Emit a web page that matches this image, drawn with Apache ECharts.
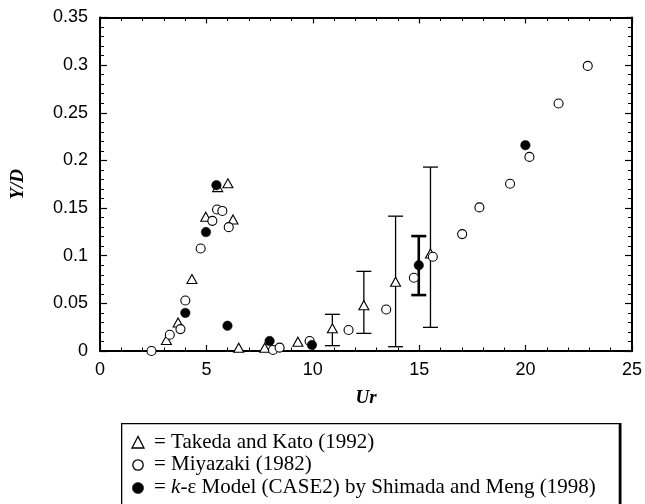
<!DOCTYPE html>
<html>
<head>
<meta charset="utf-8">
<script src="https://cdn.jsdelivr.net/npm/echarts@6/dist/echarts.min.js"></script>
<style>
  html, body { margin: 0; padding: 0; background: #fff; }
  #chart { width: 645px; height: 504px; }
</style>
</head>
<body>
<div id="chart"></div>
<script>
// Takeda and Kato (1992): [Ur, Y/D]
const takeda = [
  [3.12, 0.0115], [3.67, 0.030], [4.32, 0.0755], [4.97, 0.141], [5.53, 0.172],
  [6.01, 0.176], [6.25, 0.138], [6.52, 0.0035], [7.74, 0.0035], [9.30, 0.0098],
  [10.92, 0.0238], [12.40, 0.048], [13.89, 0.0727], [15.53, 0.1024]
];
// Miyazaki (1982): [Ur, Y/D]
const miyazaki = [
  [2.42, 0.0], [3.28, 0.017], [3.78, 0.023], [4.01, 0.053], [4.73, 0.1076],
  [5.28, 0.1366], [5.50, 0.1485], [5.75, 0.147], [6.05, 0.130], [8.13, 0.001],
  [8.44, 0.0035], [9.85, 0.0105], [11.68, 0.022], [13.45, 0.0436], [14.75, 0.0769],
  [15.64, 0.0989], [17.02, 0.1227], [17.83, 0.1507], [19.27, 0.1755], [20.18, 0.2037],
  [21.55, 0.2597], [22.92, 0.2992]
];
// k-epsilon model (CASE2), Shimada and Meng (1998): [Ur, Y/D]
const kEpsModel = [
  [4.01, 0.040], [4.98, 0.1248], [5.47, 0.174], [5.99, 0.0265], [7.97, 0.0105],
  [9.96, 0.0063], [14.98, 0.090], [19.99, 0.216]
];
// Scatter ranges: [Ur, low, high]
const takedaRange = [
  [10.92, 0.0056, 0.0385], [12.40, 0.0185, 0.0836], [13.89, 0.0045, 0.1415], [15.53, 0.0248, 0.193]
];
const modelRange = [
  [14.98, 0.0587, 0.1206]
];
// Axis ticks
const xTicks = [0, 5, 10, 15, 20, 25];
const yTicks = [0, 0.05, 0.1, 0.15, 0.2, 0.25, 0.3, 0.35];

const legendLines = [
  'Takeda and Kato (1992)',
  'Miyazaki (1982)',
  'Model (CASE2) by Shimada and Meng (1998)'
];

const chart = echarts.init(document.getElementById('chart'), null, { renderer: 'canvas' });

function errorBars(lineWidth) {
  return function (params, api) {
    const x = api.value(0);
    const lo = api.coord([x, api.value(1)]);
    const hi = api.coord([x, api.value(2)]);
    const half = 7.5;
    const style = { stroke: '#000', lineWidth: lineWidth, fill: null };
    return {
      type: 'group',
      children: [
        { type: 'line', shape: { x1: lo[0], y1: lo[1], x2: hi[0], y2: hi[1] }, style },
        { type: 'line', shape: { x1: lo[0] - half, y1: lo[1], x2: lo[0] + half, y2: lo[1] }, style },
        { type: 'line', shape: { x1: hi[0] - half, y1: hi[1], x2: hi[0] + half, y2: hi[1] }, style }
      ]
    };
  };
}

const tickFont = { fontFamily: 'Liberation Sans', fontSize: 18, color: '#000' };
const nameFont = { fontFamily: 'Liberation Serif', fontSize: 19, fontWeight: 'bold', fontStyle: 'italic', color: '#000' };
const lineStyle = { color: '#000', width: 2 };

function fmtY(v) { return String(Math.round(v * 100) / 100); }

const baseX = {
  type: 'value', min: xTicks[0], max: xTicks[xTicks.length - 1], interval: xTicks[1] - xTicks[0],
  axisLine: { show: true, onZero: false, lineStyle },
  axisTick: { show: true, inside: true, length: 6, lineStyle: { color: '#000', width: 1.2 } },
  minorTick: { show: true, splitNumber: 5, length: 3.5, lineStyle: { color: '#000', width: 1 } },
  splitLine: { show: false }
};
const baseY = {
  type: 'value', min: yTicks[0], max: yTicks[yTicks.length - 1], interval: yTicks[1] - yTicks[0],
  axisLine: { show: true, onZero: false, lineStyle },
  axisTick: { show: true, inside: true, length: 7, lineStyle: { color: '#000', width: 1.2 } },
  minorTick: { show: true, splitNumber: 5, length: 4, lineStyle: { color: '#000', width: 1 } },
  splitLine: { show: false }
};

const legendX = 121, legendY = 423;
const rowY = [443, 465, 488];
const legendFont = '21px "Liberation Serif"';

chart.setOption({
  animation: false,
  backgroundColor: '#fff',
  grid: { left: 100, right: 12, top: 17.5, bottom: 153, containLabel: false },
  xAxis: [
    Object.assign({}, baseX, {
      position: 'bottom',
      name: 'Ur', nameLocation: 'middle', nameGap: 38, nameTextStyle: nameFont,
      axisLabel: Object.assign({ margin: 10, formatter: v => String(v) }, tickFont)
    }),
    Object.assign({}, baseX, { position: 'top', axisLabel: { show: false } })
  ],
  yAxis: [
    Object.assign({}, baseY, {
      position: 'left',
      name: 'Y/D', nameLocation: 'middle', nameGap: 72, nameRotate: 90, nameTextStyle: nameFont,
      axisLabel: Object.assign({ margin: 12, formatter: fmtY }, tickFont)
    }),
    Object.assign({}, baseY, { position: 'right', axisLabel: { show: false } })
  ],
  series: [
    {
      type: 'custom', name: 'takedaRange', xAxisIndex: 0, yAxisIndex: 0, z: 1,
      renderItem: errorBars(1.3), data: takedaRange, silent: true
    },
    {
      type: 'custom', name: 'modelRange', xAxisIndex: 0, yAxisIndex: 0, z: 1,
      renderItem: errorBars(2.6), data: modelRange, silent: true
    },
    {
      type: 'scatter', name: 'Takeda and Kato (1992)', data: takeda, z: 3,
      symbol: 'triangle', symbolSize: [10, 9],
      itemStyle: { color: '#fff', borderColor: '#000', borderWidth: 1.1, opacity: 1 }
    },
    {
      type: 'scatter', name: 'Miyazaki (1982)', data: miyazaki, z: 4,
      symbol: 'circle', symbolSize: 9,
      itemStyle: { color: '#fff', borderColor: '#000', borderWidth: 1.1, opacity: 1 }
    },
    {
      type: 'scatter', name: 'k-ε Model (CASE2) by Shimada and Meng (1998)', data: kEpsModel, z: 5,
      symbol: 'circle', symbolSize: 9.5,
      itemStyle: { color: '#000', borderColor: '#000', borderWidth: 0.5, opacity: 1 }
    }
  ],
  graphic: [
    {
      type: 'rect', left: legendX, top: legendY, z: 10,
      shape: { width: 499, height: 120 },
      style: { fill: '#fff', stroke: '#000', lineWidth: 1.3 }
    },
    {
      type: 'line', z: 11,
      shape: { x1: legendX + 499, y1: legendY, x2: legendX + 499, y2: 504 },
      style: { stroke: '#000', lineWidth: 2.6 }
    },
    {
      type: 'polygon', z: 11,
      shape: { points: [[138, rowY[0] - 6.5], [132, rowY[0] + 5], [144, rowY[0] + 5]] },
      style: { fill: '#fff', stroke: '#000', lineWidth: 1.3 }
    },
    {
      type: 'circle', z: 11,
      shape: { cx: 138, cy: rowY[1], r: 5.2 },
      style: { fill: '#fff', stroke: '#000', lineWidth: 1.3 }
    },
    {
      type: 'circle', z: 11,
      shape: { cx: 138, cy: rowY[2], r: 5.6 },
      style: { fill: '#000', stroke: '#000', lineWidth: 0.5 }
    },
    {
      type: 'text', z: 11, left: 154, top: rowY[0] - 11.5,
      style: { text: '= ' + legendLines[0], font: legendFont, fill: '#000' }
    },
    {
      type: 'text', z: 11, left: 154, top: rowY[1] - 11.5,
      style: { text: '= ' + legendLines[1], font: legendFont, fill: '#000' }
    },
    {
      type: 'text', z: 11, left: 154, top: rowY[2] - 11.5,
      style: {
        text: '= {i|k}-ε ' + legendLines[2],
        font: legendFont, fill: '#000',
        rich: { i: { fontStyle: 'italic', fontFamily: 'Liberation Serif', fontSize: 21 } }
      }
    }
  ]
});
</script>
</body>
</html>
